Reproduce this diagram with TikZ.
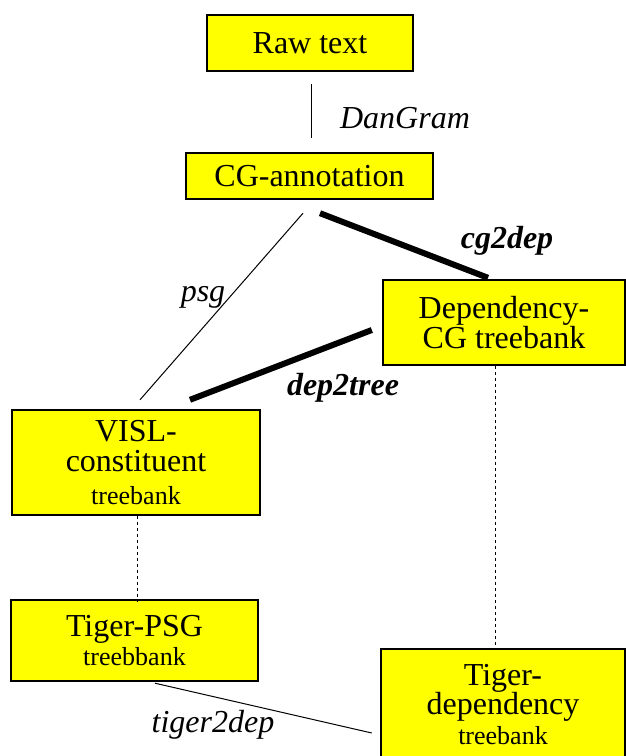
\documentclass[tikz,border=0pt]{standalone}
\usepackage{fontspec}
\setmainfont{Liberation Serif}
\usetikzlibrary{calc}

\definecolor{boxyellow}{RGB}{255,255,0}
\newcommand{\bigtxt}{\fontsize{16}{14.8}\selectfont}
\newcommand{\smalltxt}{\fontsize{13}{14.5}\selectfont}

\tikzset{
  stage/.style={draw=black, line width=1.2pt, fill=boxyellow, align=center, inner sep=0pt, font=\bigtxt},
  tool/.style={font=\bigtxt\itshape, inner sep=0pt, anchor=base},
  boldtool/.style={font=\bigtxt\bfseries\itshape, inner sep=0pt, anchor=base},
  thinlink/.style={line width=0.5pt},
  thicklink/.style={line width=3pt},
  dashlink/.style={line width=0.5pt, dash pattern=on 1.5pt off 1.5pt}
}

\begin{document}
\begin{tikzpicture}[x=0.5pt,y=-0.5pt]
\useasboundingbox (0,0) rectangle (626,756);
\clip (0,0) rectangle (626,756);

% boxes
\node[stage, minimum width=103pt, minimum height=28pt] (raw) at (310,43) {Raw text};
\node[stage, minimum width=123.5pt, minimum height=23pt] (cg) at (309.5,176) {CG-annotation};
\node[stage, minimum width=121pt, minimum height=42.5pt] (dep) at (504,322.5) {Dependency-\\CG treebank};
\node[stage, minimum width=124pt, minimum height=52.5pt] (visl) at (136,462.5) {VISL-\\constituent\\[1.5pt]{\smalltxt treebank}};
\node[stage, minimum width=123.5pt, minimum height=40.5pt] (tpsg) at (134.5,640.5) {Tiger-PSG\\{\smalltxt treebbank}};
\node[stage, minimum width=122pt, minimum height=55.5pt] (tdep) at (503,704.5) {Tiger-\\dependency\\{\smalltxt treebank}};

% connectors
\draw[thinlink] ($(raw.south)+(1,12)$) -- ($(cg.north)+(1.5,-14)$);
\draw[thinlink] ($(cg.south)+(-6.5,13)$) -- ($(visl.north)+(4,-9)$);
\draw[thicklink] ($(cg.south)+(10.5,13)$) -- ($(dep.north)+(-16,-1)$);
\draw[thicklink] ($(dep.west)+(-10,7.5)$) -- ($(visl.north)+(54,-9)$);
\draw[dashlink] ($(visl.south)+(1,0)$) -- ($(tpsg.north)+(2.5,3)$);
\draw[dashlink] ($(dep.south)+(-9,0)$) -- ($(tdep.north)+(-8,0)$);
\draw[thinlink] ($(tpsg.south)+(20.5,1)$) -- ($(tdep.west)+(-8,28.5)$);

% labels
\node[tool] (dangram) at (405,128) {DanGram};
\node[tool] (psg) at (203,301) {psg};
\node[boldtool] (cgdep) at (507,248) {cg2dep};
\node[boldtool] (deptree) at (343,395) {dep2tree};
\node[tool] (tigerdep) at (213,732) {tiger2dep};
\end{tikzpicture}
\end{document}
